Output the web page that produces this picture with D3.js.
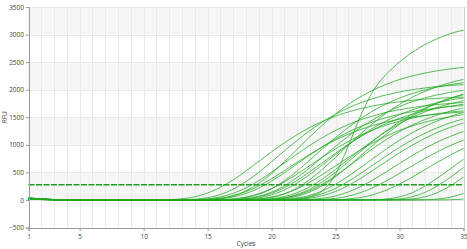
<!DOCTYPE html>
<html>
<head>
<meta charset="utf-8">
<script src="https://cdn.jsdelivr.net/npm/d3@7"></script>
<style>
  body { margin: 0; background: #fff; }
  text { font-family: "Open Sans", "DejaVu Sans", sans-serif; fill: #444; }
</style>
</head>
<body>
<script>
// cycles 1..35
const cycles = d3.range(1, 36);
const yTicks = [-500, 0, 500, 1000, 1500, 2000, 2500, 3000, 3500];
const xTickLabels = [1, 5, 10, 15, 20, 25, 30, 35];
const threshold = 275;

// RFU per well, one value per cycle
const w01 = [30,15,6,2,0,0,0,0,0,0,1,6,21,58,125,229,365,526,699,872,1036,1185,1315,1427,1520,1597,1659,1710,1750,1782,1808,1828,1843,1856,1866];
const w02 = [22,10,4,1,0,0,0,0,0,0,0,1,3,13,41,99,195,332,502,693,889,1081,1259,1417,1554,1670,1766,1844,1908,1959,2000,2032,2058,2078,2093];
const w03 = [35,18,7,3,0,0,0,0,0,0,0,0,1,6,21,56,120,219,350,504,670,835,992,1135,1260,1367,1456,1530,1590,1638,1677,1707,1732,1751,1766];
const w04 = [25,12,5,2,0,0,0,0,0,0,0,0,0,2,8,28,76,165,301,481,692,920,1148,1363,1559,1731,1877,2000,2101,2184,2250,2303,2345,2379,2405];
const w05 = [18,9,3,1,0,0,0,0,0,0,0,0,0,1,6,20,54,117,214,342,493,655,817,970,1110,1232,1337,1424,1496,1555,1602,1640,1670,1693,1712];
const w06 = [32,16,6,2,0,0,0,0,0,0,0,0,0,0,1,3,14,43,103,204,347,525,725,931,1132,1317,1483,1626,1747,1848,1930,1997,2050,2093,2127];
const w07 = [20,10,4,1,0,0,0,0,0,0,0,0,0,0,1,5,19,52,112,205,327,471,625,780,927,1060,1177,1277,1360,1429,1485,1530,1566,1595,1617];
const w08 = [27,13,5,2,0,0,0,0,0,0,0,0,0,0,0,1,7,24,65,140,255,408,587,780,973,1156,1322,1467,1592,1696,1782,1852,1908,1953,1989];
const w09 = [15,7,3,1,0,0,0,0,0,0,0,0,0,0,0,1,3,12,38,91,181,307,464,641,823,1001,1165,1312,1438,1545,1634,1707,1766,1813,1851];
const w10 = [38,19,8,3,0,0,0,0,0,0,0,0,0,0,0,0,1,4,15,46,110,218,371,560,773,993,1207,1405,1582,1735,1864,1971,2059,2130,2187];
const w11 = [24,12,5,2,0,0,0,0,0,0,0,0,0,0,0,0,1,5,19,51,111,202,323,465,618,771,916,1047,1163,1262,1344,1412,1467,1512,1548];
const w12 = [29,14,6,2,0,0,0,0,0,0,0,0,0,0,0,0,0,1,6,23,61,132,241,385,554,736,918,1090,1247,1384,1502,1600,1681,1747,1800];
const w13 = [21,10,4,1,0,0,0,0,0,0,0,0,0,0,0,0,0,1,3,12,36,86,171,290,439,606,778,945,1101,1239,1359,1460,1544,1613,1668];
const w14 = [33,16,7,2,0,0,0,0,0,0,0,0,0,0,0,0,0,0,1,7,25,67,145,265,423,609,809,1010,1199,1372,1523,1652,1760,1849,1921];
const w15 = [17,8,3,1,0,0,0,0,0,0,0,0,0,0,0,0,0,0,1,3,11,36,85,168,286,432,596,765,930,1083,1219,1337,1437,1519,1587];
const w16 = [26,13,5,2,0,0,0,0,0,0,0,0,0,0,0,0,0,0,0,1,6,20,53,116,211,337,485,644,803,954,1091,1211,1314,1400,1471];
const w17 = [19,9,4,1,0,0,0,0,0,0,0,0,0,0,0,0,0,0,0,1,3,11,33,78,154,262,397,548,703,855,995,1120,1229,1320,1396];
const w18 = [31,15,6,2,0,0,0,0,0,0,0,0,0,0,0,0,0,0,0,0,0,2,10,31,73,145,247,373,515,662,805,937,1055,1156,1243];
const w19 = [23,11,4,1,0,0,0,0,0,0,0,0,0,0,0,0,0,0,0,0,0,0,2,9,29,69,136,232,350,483,621,754,878,989,1084];
const w20 = [36,17,7,2,0,0,0,0,0,0,0,0,0,0,0,0,0,0,0,0,0,0,0,1,5,17,46,99,181,288,415,552,689,818,935];
const w21 = [16,8,3,1,0,0,0,0,0,0,0,0,0,0,0,0,0,0,0,0,0,0,0,0,0,0,0,4,18,56,132,251,402,570,739];
const w22 = [28,14,5,2,0,0,0,0,0,0,0,0,0,0,0,0,0,0,0,0,0,0,0,0,0,0,0,0,4,18,58,137,259,415,589];
const w23 = [22,11,4,1,0,0,0,0,0,0,0,0,0,0,0,0,0,0,0,0,0,0,0,0,0,0,0,0,0,4,18,58,137,259,415];
const w24 = [14,7,3,1,0,0,0,0,0,0,0,0,0,0,0,0,0,0,0,0,0,0,0,0,0,0,0,0,0,0,0,3,16,51,120];
const w25 = [30,15,6,2,0,0,0,0,0,0,0,0,0,0,0,0,0,0,0,0,0,0,0,0,0,0,0,0,0,0,0,0,0,3,16];
const w26 = [12,6,2,1,0,0,0,0,0,0,0,0,0,0,0,1,6,21,56,122,223,356,512,681,849,1009,1153,1281,1389,1480,1555,1616,1665,1704,1736];
const w27 = [34,17,7,2,0,0,0,0,0,0,0,0,0,0,0,0,0,1,3,13,41,99,195,332,502,693,889,1081,1259,1417,1554,1670,1766,1844,1908];
const w28 = [26,12,5,2,0,0,0,0,0,0,0,0,0,2,10,32,76,150,255,385,531,683,830,966,1088,1193,1281,1355,1415,1464,1503,1535,1560,1579,1595];
const w29 = [20,10,4,1,0,0,0,0,0,0,0,0,0,0,0,0,0,0,0,1,5,20,60,170,470,980,1550,2000,2290,2500,2680,2820,2930,3020,3080];

const wells = [w01,w02,w03,w04,w05,w06,w07,w08,w09,w10,w11,w12,w13,w14,w15,
               w16,w17,w18,w19,w20,w21,w22,w23,w24,w25,w26,w27,w28,w29];

let w = 467, h = 249;
let pLeft = 28.5, pRight = 463.5, pTop = 7, pBottom = 227.5; // plot box

let xScale = d3.scaleLinear().domain([1, 35]).range([pLeft, pRight]);
let yScale = d3.scaleLinear().domain([-500, 3500]).range([pBottom, pTop]);

let svg = d3.select('body')
  .append('svg')
  .attr('width', w)
  .attr('height', h);

// alternating horizontal bands, shaded from 0 upward every other step
svg.selectAll('rect.band')
   .data(yTicks.slice(0, -1))
   .enter()
   .append('rect')
   .attr('class', 'band')
   .attr('x', pLeft)
   .attr('width', pRight - pLeft)
   .attr('y', d => yScale(d + 500))
   .attr('height', d => yScale(d) - yScale(d + 500))
   .attr('fill', d => (d / 500) % 2 === 0 ? '#f6f6f6' : '#ffffff');

// grid
svg.append('g')
   .selectAll('line')
   .data(cycles)
   .enter()
   .append('line')
   .attr('x1', d => Math.round(xScale(d)) + 0.5)
   .attr('x2', d => Math.round(xScale(d)) + 0.5)
   .attr('y1', pTop)
   .attr('y2', pBottom)
   .attr('stroke', '#e9e9e9');

svg.append('g')
   .selectAll('line')
   .data(yTicks)
   .enter()
   .append('line')
   .attr('x1', pLeft)
   .attr('x2', pRight)
   .attr('y1', d => Math.round(yScale(d)) + 0.5)
   .attr('y2', d => Math.round(yScale(d)) + 0.5)
   .attr('stroke', '#e8e8e8');

// amplification curves
let line = d3.line()
  .x((d, i) => xScale(cycles[i]))
  .y(d => yScale(d))
  .curve(d3.curveMonotoneX);

svg.append('g')
   .selectAll('path')
   .data(wells)
   .enter()
   .append('path')
   .attr('d', line)
   .attr('fill', 'none')
   .attr('stroke', '#1fa81f')
   .attr('stroke-opacity', 0.85)
   .attr('stroke-width', 0.9);

// threshold
svg.append('line')
   .attr('x1', pLeft)
   .attr('x2', pRight)
   .attr('y1', yScale(threshold))
   .attr('y2', yScale(threshold))
   .attr('stroke', '#1f9e1f')
   .attr('stroke-width', 1.5)
   .attr('stroke-dasharray', '6,1.5');

// axes
let yAxis = d3.axisLeft(yScale).tickValues(yTicks).tickFormat(d3.format('d')).tickSize(3).tickPadding(2);
let xAxis = d3.axisBottom(xScale).tickValues(xTickLabels).tickFormat(d3.format('d')).tickSize(3).tickPadding(3);

let gy = svg.append('g')
   .attr('transform', 'translate(' + Math.round(pLeft) + ',0)')
   .call(yAxis);

let gx = svg.append('g')
   .attr('transform', 'translate(0,' + Math.round(pBottom) + ')')
   .call(xAxis);

[gy, gx].forEach(g => {
  g.select('.domain').attr('stroke', '#9a9a9a');
  g.selectAll('.tick line').attr('stroke', '#9a9a9a');
  g.selectAll('.tick text').style('font-size', '6.5px').attr('fill', '#444');
});

// right border
svg.append('line')
   .attr('x1', Math.round(pRight) + 0.5)
   .attr('x2', Math.round(pRight) + 0.5)
   .attr('y1', pTop)
   .attr('y2', pBottom)
   .attr('stroke', '#d0d0d0');

svg.append('text')
   .attr('x', (pLeft + pRight) / 2)
   .attr('y', 246)
   .attr('text-anchor', 'middle')
   .style('font-size', '6.5px')
   .text('Cycles');

svg.append('text')
   .attr('transform', 'translate(7,' + yScale(1500) + ') rotate(-90)')
   .attr('text-anchor', 'middle')
   .style('font-size', '6.5px')
   .text('RFU');
</script>
</body>
</html>
